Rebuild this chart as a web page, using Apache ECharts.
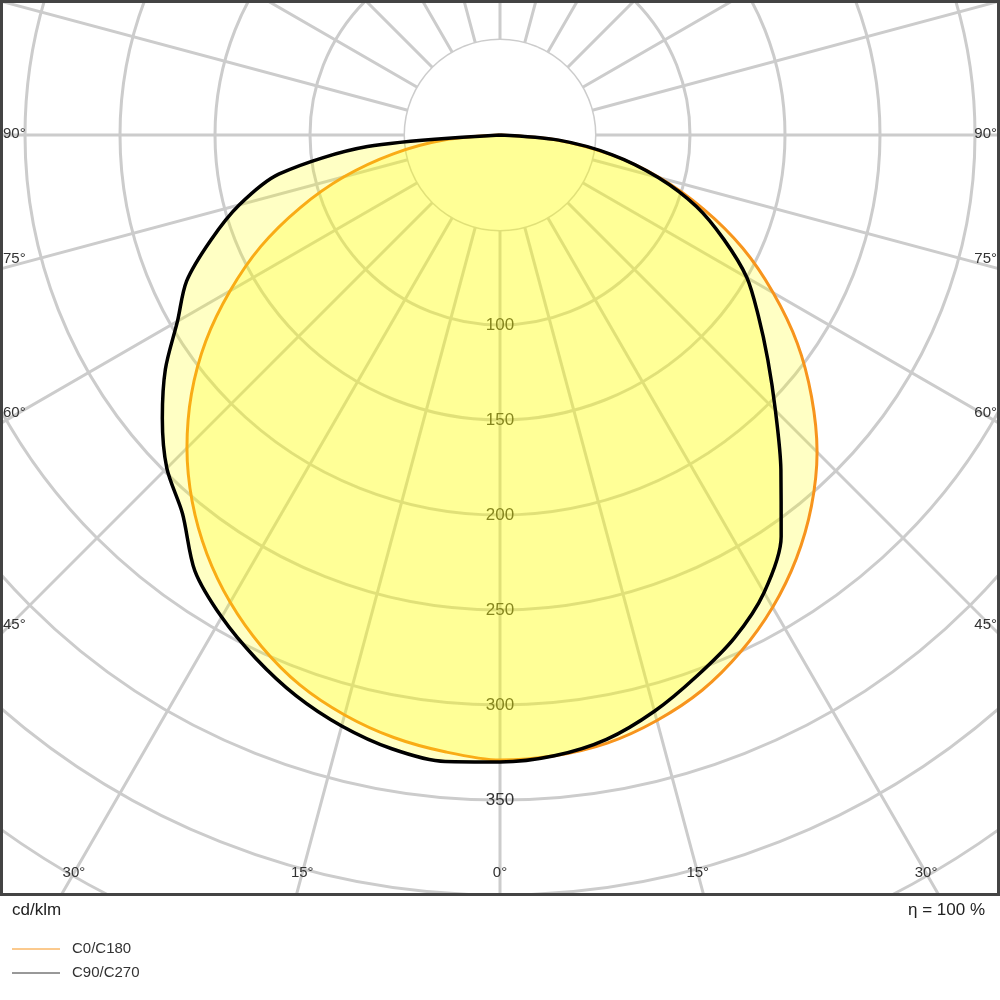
<!DOCTYPE html>
<html>
<head>
<meta charset="utf-8">
<script src="https://cdn.jsdelivr.net/npm/echarts@6/dist/echarts.min.js"></script>
<style>html,body{margin:0;padding:0;background:#fff}#c{width:1000px;height:1000px}</style>
</head>
<body>
<div id="c"></div>
<script>
// angles measured from nadir (0° = down), positive = right side
var angles = [-90, -85, -80, -75, -70, -65, -60, -55, -50, -45, -40, -35, -30, -25, -20, -15, -10, -5,
  0, 5, 10, 15, 20, 25, 30, 35, 40, 45, 50, 55, 60, 65, 70, 75, 80, 85, 90];
var c0c180 = [0, 29, 57, 85, 112, 139, 164, 189, 212, 233, 252, 269, 284, 297, 308, 316, 322, 326,
  329, 328, 325, 319, 311, 300, 287, 272, 255, 236, 214, 191, 166, 141, 114, 87, 59, 30, 0];
var c90c270 = [0, 70, 118, 142, 162, 182, 196, 215, 232, 248, 260, 280, 293, 304, 314, 322, 328, 331,
  330, 328, 323, 314, 303, 292, 278, 258, 230, 205, 184, 166, 150, 130, 110, 86, 60, 31, 0];
var radiusTicks = [100, 150, 200, 250, 300, 350];
var sideLabels = [90, 75, 60, 45];
var bottomLabels = [30, 15, 0];

var cx = 500, cy = 135, pxPer = 1.9, rMax = 500;
function pts(vals) {
  return angles.map(function (a, i) { return [vals[i], (a + 360) % 360]; });
}
var graphics = [
  { type: 'circle', z: 1, shape: { cx: cx, cy: cy, r: 50 * pxPer }, style: { fill: '#fff' } },
  { type: 'rect', z: 50, shape: { x: 0, y: 896, width: 1000, height: 104 }, style: { fill: '#fff' } },
  { type: 'rect', z: 51, shape: { x: 1.5, y: 1.5, width: 997, height: 893 }, style: { fill: 'none', stroke: '#444', lineWidth: 3 } }
];
sideLabels.forEach(function (a) {
  var y = cy + 500 / Math.tan(a * Math.PI / 180) - 9;
  if (a === 90) y = cy;
  graphics.push({ type: 'text', z: 52, left: 3, top: y - 9, style: { text: a + '°', font: '15px "Liberation Sans"', fill: '#333' } });
  graphics.push({ type: 'text', z: 52, right: 3, top: y - 9, style: { text: a + '°', font: '15px "Liberation Sans"', fill: '#333' } });
});
bottomLabels.forEach(function (a) {
  var dx = 738 * Math.tan(a * Math.PI / 180);
  [1, -1].forEach(function (s) {
    if (a === 0 && s < 0) return;
    graphics.push({ type: 'text', z: 52, x: cx + s * dx, y: 873, style: { text: a + '°', font: '15px "Liberation Sans"', fill: '#333', align: 'center', verticalAlign: 'middle' } });
  });
});
graphics.push({ type: 'text', z: 52, x: 12, y: 910, style: { text: 'cd/klm', font: '17px "Liberation Sans"', fill: '#222', verticalAlign: 'middle' } });
graphics.push({ type: 'text', z: 52, x: 985, y: 910, style: { text: 'η = 100 %', font: '17px "Liberation Sans"', fill: '#222', align: 'right', verticalAlign: 'middle' } });
graphics.push({ type: 'line', z: 52, shape: { x1: 12, y1: 949, x2: 60, y2: 949 }, style: { stroke: '#f7941d', lineWidth: 1 } });
graphics.push({ type: 'text', z: 52, x: 72, y: 949, style: { text: 'C0/C180', font: '15px "Liberation Sans"', fill: '#333', verticalAlign: 'middle' } });
graphics.push({ type: 'line', z: 52, shape: { x1: 12, y1: 973, x2: 60, y2: 973 }, style: { stroke: '#333', lineWidth: 1 } });
graphics.push({ type: 'text', z: 52, x: 72, y: 973, style: { text: 'C90/C270', font: '15px "Liberation Sans"', fill: '#333', verticalAlign: 'middle' } });

var chart = echarts.init(document.getElementById('c'));
chart.setOption({
  animation: false,
  polar: { center: [cx, cy], radius: rMax * pxPer },
  angleAxis: {
    type: 'value', min: 0, max: 360, interval: 15, startAngle: 270, clockwise: false,
    axisLine: { show: false }, axisTick: { show: false }, axisLabel: { show: false },
    splitLine: { show: true, lineStyle: { color: '#cccccc', width: 3 } }
  },
  radiusAxis: {
    type: 'value', min: 0, max: rMax, interval: 50,
    axisLine: { show: false }, axisTick: { show: false },
    axisLabel: {
      margin: 0, align: 'center', verticalAlign: 'middle', rotate: 0, fontSize: 17, color: '#333',
      fontFamily: 'Liberation Sans',
      formatter: function (v) { return radiusTicks.indexOf(v) >= 0 ? String(v) : ''; }
    },
    splitLine: { show: true, lineStyle: { color: '#cccccc', width: 3 } }
  },
  series: [
    { type: 'line', name: 'C0/C180', coordinateSystem: 'polar', data: pts(c0c180), smooth: 0.3, symbol: 'none', z: 3,
      lineStyle: { color: '#f7941d', width: 3 }, areaStyle: { color: 'rgba(255,255,0,0.33)' } },
    { type: 'line', name: 'C90/C270', coordinateSystem: 'polar', data: pts(c90c270), smooth: 0.3, symbol: 'none', z: 4,
      lineStyle: { color: '#000', width: 3.5 }, areaStyle: { color: 'rgba(255,255,0,0.33)' } }
  ],
  graphic: graphics
});
</script>
</body>
</html>
